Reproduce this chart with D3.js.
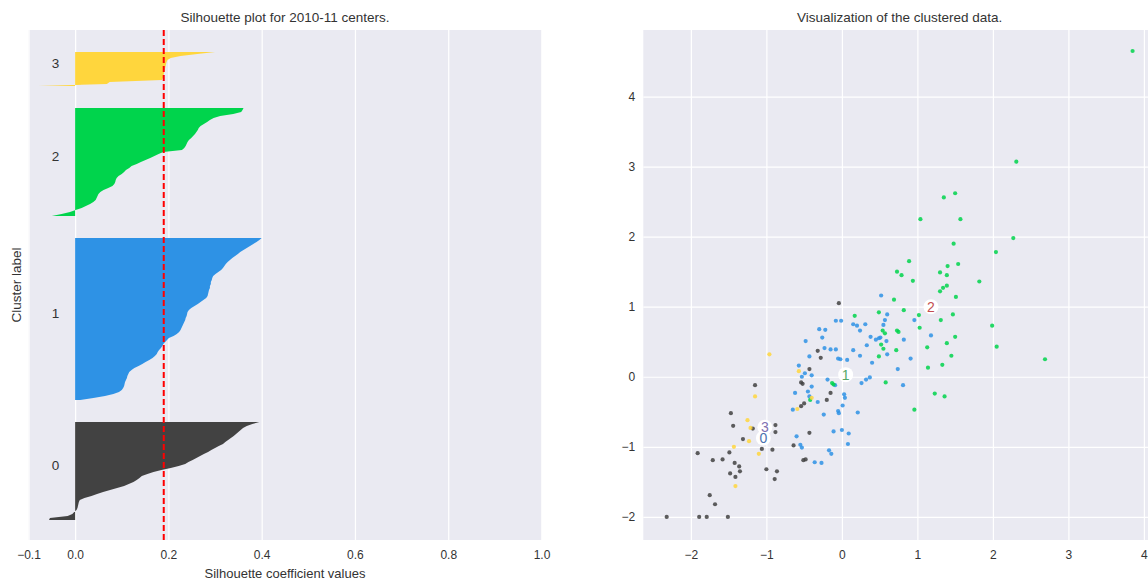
<!DOCTYPE html>
<html>
<head>
<meta charset="utf-8">
<script src="https://cdn.jsdelivr.net/npm/d3@7"></script>
<style>
body { margin: 0; background: #fff; }
text { font-family: "Liberation Sans", Arial, sans-serif; fill: #333; }
</style>
</head>
<body>
<div id="chart"></div>
<script>
var width = 1148,
	height = 584;

// silhouette coefficients per cluster, sorted ascending (bottom to top)
var sil0 = [-0.056,-0.054,-0.016,-0.006,-0.002,0.003,0.005,0.006,0.007,0.008,
	0.01,0.02,0.035,0.047,0.06,0.075,0.09,0.105,0.115,0.125,
	0.132,0.138,0.143,0.155,0.168,0.185,0.205,0.222,0.236,0.243,
	0.252,0.26,0.268,0.276,0.285,0.292,0.3,0.308,0.317,0.322,
	0.328,0.334,0.34,0.345,0.35,0.355,0.36,0.368,0.38,0.395];
var sil1 = [0.011,0.039,0.064,0.082,0.094,0.1,0.103,0.105,0.106,0.107,
	0.109,0.111,0.112,0.114,0.116,0.121,0.127,0.136,0.144,0.151,
	0.159,0.166,0.171,0.175,0.177,0.18,0.184,0.187,0.189,0.193,
	0.197,0.201,0.211,0.218,0.223,0.226,0.228,0.23,0.232,0.234,
	0.236,0.237,0.239,0.24,0.241,0.244,0.249,0.256,0.263,0.269,
	0.275,0.281,0.284,0.285,0.286,0.287,0.289,0.289,0.291,0.291,
	0.293,0.294,0.296,0.301,0.307,0.313,0.317,0.32,0.323,0.327,
	0.332,0.337,0.343,0.349,0.354,0.361,0.368,0.375,0.382,0.389,
	0.395,0.4];
var sil2 = [-0.05,-0.029,-0.011,0.001,0.014,0.023,0.032,0.039,0.044,0.046,
	0.048,0.05,0.054,0.061,0.071,0.08,0.084,0.086,0.087,0.089,
	0.093,0.1,0.105,0.109,0.116,0.121,0.132,0.141,0.151,0.161,
	0.17,0.179,0.189,0.229,0.234,0.237,0.239,0.241,0.244,0.249,
	0.253,0.257,0.26,0.263,0.265,0.269,0.276,0.283,0.289,0.297,
	0.311,0.339,0.356,0.359,0.361];
var sil3 = [-0.079,0.068,0.074,0.186,0.188,0.189,0.19,0.191,0.192,0.193,
	0.194,0.195,0.196,0.198,0.205,0.226,0.262,0.3];
var silhouetteAvg = 0.19;
var silTicks = [-0.1, 0.0, 0.2, 0.4, 0.6, 0.8, 1.0];

var clusterColors = ["#424242", "#2e92e5", "#00d44c", "#ffd63d"];
var centerColors = ["#4c72b0", "#55a868", "#c44e52", "#8172b2"];

// scatter points per cluster
var pts0 = [[-1.15,-0.12],[-1.47,-0.52],[-1.44,-0.70],[-1.18,-0.74],[-1.31,-0.89],[-0.88,-0.69],
	[-0.88,-0.79],[-1.06,-1.03],[-0.92,-1.04],[-1.91,-1.09],[-1.71,-1.19],[-1.58,-1.18],
	[-1.49,-1.08],[-1.42,-1.23],[-1.36,-1.28],[-1.35,-1.35],[-1.48,-1.38],[-1.41,-1.43],
	[-1.00,-1.32],[-0.86,-1.35],[-0.89,-1.46],[-1.75,-1.69],[-1.68,-1.82],[-2.32,-2.0],
	[-1.89,-2.0],[-1.79,-2.0],[-1.51,-2.0],[-0.51,-1.19],[-0.04,1.05],[-0.32,0.37],
	[-0.28,0.27],[-0.43,0.11],[-0.54,-0.08],[-0.52,-0.10],[-0.15,-0.23],[-0.54,-0.42],
	[-0.50,-0.38],[-0.20,-0.33],[-0.43,-0.80],[-0.64,-0.98],[-0.48,-1.18]];
var pts1 = [[0.52,1.16],[0.96,0.81],[0.60,0.89],[0.57,0.81],[-0.08,0.80],[-0.01,0.80],
	[0.15,0.75],[0.20,0.73],[0.31,0.75],[0.24,0.66],[0.55,0.74],[1.18,0.59],
	[-0.30,0.68],[-0.22,0.67],[-0.26,0.56],[-0.48,0.51],[0.38,0.57],[0.45,0.53],
	[0.49,0.55],[0.51,0.56],[0.59,0.51],[0.82,0.53],[0.33,0.45],[-0.23,0.41],
	[-0.15,0.39],[-0.08,0.39],[0.15,0.38],[0.24,0.30],[0.60,0.32],[-0.05,0.26],
	[-0.02,0.25],[0.07,0.24],[-0.43,0.29],[0.40,0.20],[0.91,0.26],[0.74,0.11],
	[-0.57,0.16],[-0.49,0.05],[-0.53,0.0],[-0.40,0.02],[-0.19,-0.04],[-0.09,-0.12],
	[0.26,-0.09],[0.32,-0.04],[0.37,-0.01],[0.81,-0.12],[-0.62,-0.23],[-0.45,-0.21],
	[-0.40,-0.14],[0.03,-0.25],[0.04,-0.30],[-0.43,-0.28],[-0.32,-0.36],[-0.65,-0.47],
	[-0.24,-0.54],[-0.05,-0.49],[-0.04,-0.52],[0.01,-0.41],[0.21,-0.51],[-0.11,-0.78],
	[0.0,-0.76],[0.09,-0.81],[0.08,-0.96],[-0.60,-0.85],[-0.55,-0.97],[-0.53,-1.01],
	[-0.36,-1.22],[-0.27,-1.23],[-0.17,-1.05],[-0.14,-1.10]];
var pts2 = [[0.73,1.50],[0.79,1.45],[0.94,1.37],[1.30,1.49],[1.39,1.45],[0.69,1.10],
	[1.39,1.30],[1.34,1.27],[1.30,1.22],[0.82,0.95],[1.02,0.88],[1.31,0.81],
	[0.49,0.92],[0.17,0.87],[0.54,0.66],[0.57,0.62],[0.73,0.66],[0.75,0.64],
	[1.03,0.70],[0.52,0.46],[0.55,0.40],[0.72,0.38],[0.49,0.29],[1.13,0.42],
	[1.14,0.13],[1.33,0.17],[-0.13,-0.09],[-0.11,-0.11],[0.11,0.05],[0.58,-0.08],
	[-0.42,-0.33],[1.36,-0.28],[1.23,-0.24],[0.96,-0.47],[3.85,4.65],[2.31,3.07],
	[1.35,2.56],[1.50,2.62],[1.04,2.25],[1.57,2.25],[2.27,1.98],[1.48,1.90],
	[2.04,1.78],[0.89,1.65],[1.40,1.58],[1.54,1.61],[1.82,1.36],[1.51,1.14],
	[1.47,0.89],[1.50,0.57],[1.45,0.30],[1.39,0.48],[1.99,0.73],[2.05,0.43],
	[2.69,0.25]];
var pts3 = [[-1.15,-0.28],[-1.25,-0.62],[-1.21,-0.73],[-1.23,-0.92],[-1.43,-1.00],[-1.10,-1.10],
	[-1.41,-1.56],[-0.57,0.08],[-0.40,-0.30],[-0.59,-0.46],[-0.96,0.32]];

// cluster centers (index = cluster label)
var centers = [[-1.04,-0.875],[0.05,0.03],[1.18,1.0],[-1.02,-0.72]];
var scatterXTicks = [-2, -1, 0, 1, 2, 3, 4];
var scatterYTicks = [-2, -1, 0, 1, 2, 3, 4];

var silValues = [sil0, sil1, sil2, sil3];
var scatterPoints = [pts0, pts1, pts2, pts3];

var svg = d3.select("#chart")
	.append("svg")
	.attr("width", width)
	.attr("height", height);

var plotTop = 30,
	plotBottom = 540;

// ---------- left: silhouette plot ----------
var leftX0 = 28.5, leftX1 = 541.5;
var nSamples = d3.sum(silValues, function(d) { return d.length; });

var xSil = d3.scaleLinear().domain([-0.1, 1.0]).range([leftX0, leftX1]);
var ySil = d3.scaleLinear()
	.domain([0, nSamples + (silValues.length + 1) * 10])
	.range([plotBottom, plotTop]);

var left = svg.append("g");

left.append("rect")
	.attr("x", leftX0)
	.attr("y", plotTop)
	.attr("width", leftX1 - leftX0)
	.attr("height", plotBottom - plotTop)
	.attr("fill", "#eaeaf2");

// vertical grid
left.append("g")
	.attr("transform", "translate(0," + plotBottom + ")")
	.call(d3.axisBottom(xSil).tickValues(silTicks).tickSize(-(plotBottom - plotTop)).tickFormat(""))
	.call(function(g) { g.select(".domain").remove(); })
	.selectAll("line")
	.attr("stroke", "#fff")
	.attr("stroke-width", 1.2);

var silArea = d3.area()
	.x0(xSil(0))
	.x1(function(d) { return xSil(d.v); })
	.y(function(d) { return ySil(d.y); });

var yLower = 10;
silValues.forEach(function(vals, c) {
	var rows = vals.map(function(v, i) { return {y: yLower + i, v: v}; });
	left.append("path")
		.datum(rows)
		.attr("d", silArea)
		.attr("fill", clusterColors[c]);

	left.append("text")
		.attr("x", xSil(-0.05))
		.attr("y", ySil(yLower + 0.5 * vals.length))
		.attr("font-size", "13.5px")
		.text(c);

	yLower += vals.length + 10;
});

// average silhouette score
left.append("line")
	.attr("x1", xSil(silhouetteAvg))
	.attr("x2", xSil(silhouetteAvg))
	.attr("y1", plotTop)
	.attr("y2", plotBottom)
	.attr("stroke", "#ff0000")
	.attr("stroke-width", 2)
	.attr("stroke-dasharray", "6,3");

// x tick labels
left.append("g")
	.attr("transform", "translate(0," + plotBottom + ")")
	.call(d3.axisBottom(xSil).tickValues(silTicks).tickSize(0).tickPadding(10).tickFormat(d3.format(".1f")))
	.call(function(g) { g.select(".domain").remove(); })
	.selectAll("text")
	.attr("font-family", "Liberation Sans, Arial, sans-serif")
	.attr("font-size", "12px")
	.attr("fill", "#333");

left.append("text")
	.attr("x", (leftX0 + leftX1) / 2)
	.attr("y", 22)
	.attr("text-anchor", "middle")
	.attr("font-size", "13.5px")
	.text("Silhouette plot for 2010-11 centers.");

left.append("text")
	.attr("x", (leftX0 + leftX1) / 2)
	.attr("y", 578)
	.attr("text-anchor", "middle")
	.attr("font-size", "13px")
	.text("Silhouette coefficient values");

left.append("text")
	.attr("transform", "translate(21," + ((plotTop + plotBottom) / 2) + ") rotate(-90)")
	.attr("text-anchor", "middle")
	.attr("font-size", "13.5px")
	.text("Cluster label");

// ---------- right: scatter of clustered data ----------
var rightX0 = 643.3, rightX1 = 1156;
var xSc = d3.scaleLinear().domain([-2.63, 4.16]).range([rightX0, rightX1]);
var ySc = d3.scaleLinear().domain([-2.33, 4.95]).range([plotBottom, plotTop]);

var right = svg.append("g");

right.append("rect")
	.attr("x", rightX0)
	.attr("y", plotTop)
	.attr("width", rightX1 - rightX0)
	.attr("height", plotBottom - plotTop)
	.attr("fill", "#eaeaf2");

right.append("g")
	.attr("transform", "translate(0," + plotBottom + ")")
	.call(d3.axisBottom(xSc).tickValues(scatterXTicks).tickSize(-(plotBottom - plotTop)).tickFormat(""))
	.call(function(g) { g.select(".domain").remove(); })
	.selectAll("line")
	.attr("stroke", "#fff")
	.attr("stroke-width", 1.2);

right.append("g")
	.attr("transform", "translate(" + rightX0 + ",0)")
	.call(d3.axisLeft(ySc).tickValues(scatterYTicks).tickSize(-(rightX1 - rightX0)).tickFormat(""))
	.call(function(g) { g.select(".domain").remove(); })
	.selectAll("line")
	.attr("stroke", "#fff")
	.attr("stroke-width", 1.2);

scatterPoints.forEach(function(pts, c) {
	right.selectAll(".pt" + c)
		.data(pts)
		.enter()
		.append("circle")
		.attr("class", "pt" + c)
		.attr("cx", function(d) { return xSc(d[0]); })
		.attr("cy", function(d) { return ySc(d[1]); })
		.attr("r", 2.1)
		.attr("fill", clusterColors[c])
		.attr("opacity", 0.85);
});

// centers: white discs, then the numbers
right.selectAll(".center")
	.data(centers)
	.enter()
	.append("circle")
	.attr("class", "center")
	.attr("cx", function(d) { return xSc(d[0]); })
	.attr("cy", function(d) { return ySc(d[1]); })
	.attr("r", 7.5)
	.attr("fill", "#fff");

right.selectAll(".centerLabel")
	.data(centers)
	.enter()
	.append("text")
	.attr("class", "centerLabel")
	.attr("x", function(d) { return xSc(d[0]); })
	.attr("y", function(d) { return ySc(d[1]); })
	.attr("dy", "0.36em")
	.attr("text-anchor", "middle")
	.attr("font-family", "DejaVu Sans, sans-serif")
	.attr("font-size", "14px")
	.style("fill", function(d, i) { return centerColors[i]; })
	.text(function(d, i) { return i; });

right.append("g")
	.attr("transform", "translate(0," + plotBottom + ")")
	.call(d3.axisBottom(xSc).tickValues(scatterXTicks).tickSize(0).tickPadding(10).tickFormat(d3.format("d")))
	.call(function(g) { g.select(".domain").remove(); })
	.selectAll("text")
	.attr("font-family", "Liberation Sans, Arial, sans-serif")
	.attr("font-size", "12px")
	.attr("fill", "#333");

right.append("g")
	.attr("transform", "translate(" + rightX0 + ",0)")
	.call(d3.axisLeft(ySc).tickValues(scatterYTicks).tickSize(0).tickPadding(8).tickFormat(d3.format("d")))
	.call(function(g) { g.select(".domain").remove(); })
	.selectAll("text")
	.attr("font-family", "Liberation Sans, Arial, sans-serif")
	.attr("font-size", "12px")
	.attr("fill", "#333");

right.append("text")
	.attr("x", (rightX0 + rightX1) / 2)
	.attr("y", 22)
	.attr("text-anchor", "middle")
	.attr("font-size", "13.5px")
	.text("Visualization of the clustered data.");
</script>
</body>
</html>
